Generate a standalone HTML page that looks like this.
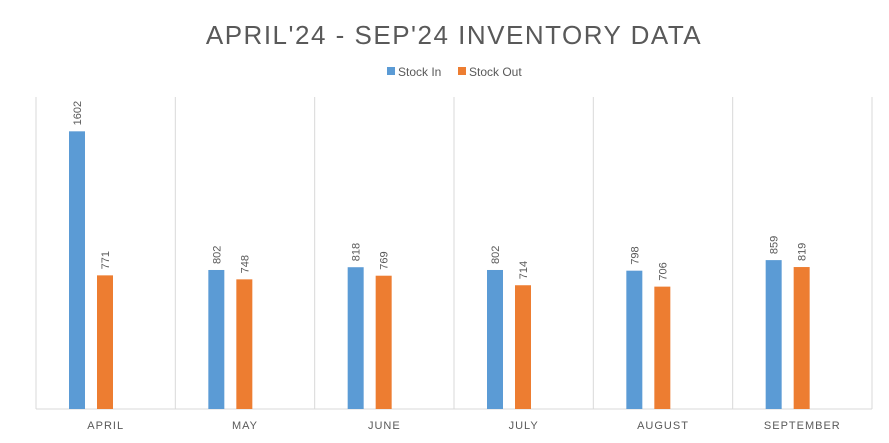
<!DOCTYPE html>
<html><head><meta charset="utf-8"><style>
html,body{margin:0;padding:0;background:#fff;}
svg{display:block;font-family:"Liberation Sans",sans-serif;}
</style></head><body>
<svg id="chart" width="889" height="443" viewBox="0 0 889 443">
<text x="454" y="44" text-anchor="middle" font-size="26" fill="#595959" letter-spacing="1.5">APRIL'24 - SEP'24 INVENTORY DATA</text>
<g>
<rect x="387" y="67" width="8" height="8" fill="#5B9BD5"/>
<text x="398" y="76" font-size="12" fill="#595959">Stock In</text>
<rect x="458" y="67" width="8" height="8" fill="#ED7D31"/>
<text x="469" y="76" font-size="12" fill="#595959">Stock Out</text>
</g>
<g id="plot"></g>
</svg>
<script>
const categories=["APRIL","MAY","JUNE","JULY","AUGUST","SEPTEMBER"];
const stockIn=[1602,802,818,802,798,859];
const stockOut=[771,748,769,714,706,819];
const yMax=1800;
const L=36,R=872,T=97,B=409;
const bw=(R-L)/categories.length;
const y=v=>B-(v/yMax)*(B-T);
const x=i=>L+i*bw;
const g=document.getElementById('plot');
const NS="http://www.w3.org/2000/svg";
function mk(t,a){const e=document.createElementNS(NS,t);for(const k in a)e.setAttribute(k,a[k]);g.appendChild(e);return e;}
for(let i=0;i<=categories.length;i++){
 const l=mk('line',{x1:x(i),x2:x(i),y1:T,y2:B,stroke:'#d9d9d9','stroke-width':1});
 
 
}
const ax=mk('line',{x1:L,x2:R,y1:B,y2:B,stroke:'#d9d9d9','stroke-width':1});


function bar(i,v,off,color,name){
 const r=mk('rect',{x:x(i)+off,y:y(v),width:16,height:B-y(v),fill:color});
 
 
 const cx=x(i)+off+8+4,cy=y(v)-6;
 const t=mk('text',{x:cx,y:cy,'font-size':11,fill:'#595959',transform:`rotate(-90 ${cx} ${cy})`});
 t.textContent=v;
 
 
}
categories.forEach((c,i)=>{
 bar(i,stockIn[i],33,'#5B9BD5','bar-stock-in');
 bar(i,stockOut[i],61,'#ED7D31','bar-stock-out');
 const t=mk('text',{x:x(i)+bw/2,y:429,'text-anchor':'middle','font-size':11,fill:'#595959','letter-spacing':1});
 t.textContent=c;
 
 
});
</script>
</body></html>
